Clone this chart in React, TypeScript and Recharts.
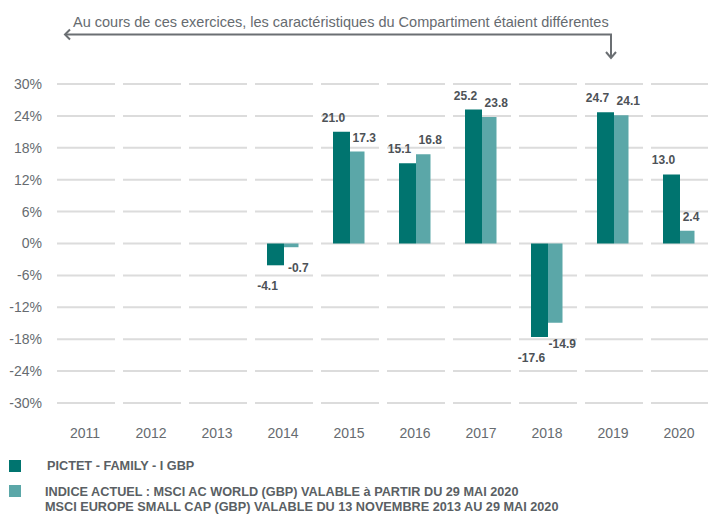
import { BarChart, Bar, XAxis, YAxis, CartesianGrid, LabelList } from "recharts";

const years = ["2011", "2012", "2013", "2014", "2015", "2016", "2017", "2018", "2019", "2020"];
const fundValues = [null, null, null, -4.1, 21.0, 15.1, 25.2, -17.6, 24.7, 13.0];
const indexValues = [null, null, null, -0.7, 17.3, 16.8, 23.8, -14.9, 24.1, 2.4];
const yTicks = [-30, -24, -18, -12, -6, 0, 6, 12, 18, 24, 30];

const noteText = "Au cours de ces exercices, les caractéristiques du Compartiment étaient différentes";
const fundName = "PICTET - FAMILY - I GBP";
const indexLines = [
  "INDICE ACTUEL : MSCI AC WORLD (GBP) VALABLE à PARTIR DU 29 MAI 2020",
  "MSCI EUROPE SMALL CAP (GBP) VALABLE DU 13 NOVEMBRE 2013 AU 29 MAI 2020",
];

const DARK = "#00746f";
const LIGHT = "#5ba7a8";
const TEXT = "#666b70";

const data = years.map((year, i) => ({
  year,
  fund: fundValues[i],
  index: indexValues[i],
}));

function makeLabel(dx: number) {
  return (props: any) => {
    const { x, y, width, height, value } = props;
    if (value === null || value === undefined) return null;
    const top = Math.min(y, y + height);
    const bottom = Math.max(y, y + height);
    // keep the last label inside the page
    const cx = Math.min(x + width / 2 + dx, 691);
    const ty = value >= 0 ? top - 10 : bottom + 25;
    return (
      <text
        x={cx}
        y={ty}
        textAnchor="middle"
        fontSize={12}
        fontWeight="bold"
        fontFamily="Liberation Sans, Arial, sans-serif"
        fill="#4d5257"
      >
        {Number(value).toFixed(1)}
      </text>
    );
  };
}

const legendText = {
  position: "absolute" as const,
  fontSize: 12.7,
  lineHeight: "15.6px",
  fontWeight: "bold" as const,
  color: "#5a5f64",
  fontFamily: "Liberation Sans, Arial, sans-serif",
  whiteSpace: "nowrap" as const,
};

export default function App() {
  return (
    <div
      style={{
        position: "relative",
        width: 708,
        height: 514,
        overflow: "hidden",
        background: "#fff",
        fontFamily: "Liberation Sans, Arial, sans-serif",
      }}
    >
      <style>{`body { margin: 0; overflow: hidden; }`}</style>
      <svg width={708} height={64} style={{ position: "absolute", left: 0, top: 0 }}>
        <text x={73} y={26.5} fontSize={14.5} fill={TEXT}>
          {noteText}
        </text>
        <g stroke="#6b6f73" strokeWidth={2} fill="none">
          <polyline points="65,34.5 611,34.5 611,58" />
          <polyline points="70,29.5 65,34.5 70,39.5" />
          <polyline points="606,52 611,58 616,52" />
        </g>
      </svg>
      <div style={{ position: "absolute", left: 0, top: 0 }}>
        <BarChart
          width={708}
          height={453}
          data={data}
          barGap={0}
          barCategoryGap={17}
          margin={{ top: 84, right: -4, bottom: 0, left: 0 }}
        >
          <CartesianGrid
            vertical={false}
            stroke="#dcdcdc"
            strokeWidth={2}
            strokeDasharray="0 5 58 3"
          />
          <XAxis
            dataKey="year"
            axisLine={false}
            tickLine={false}
            tickMargin={19}
            height={50}
            tick={{ fontSize: 14, fill: TEXT }}
          />
          <YAxis
            domain={[-30, 30]}
            ticks={yTicks}
            axisLine={false}
            tickLine={false}
            tickSize={0}
            tickMargin={10}
            width={52}
            tickFormatter={(v: number) => `${v}%`}
            tick={{ fontSize: 14, fill: TEXT }}
          />
          <Bar dataKey="fund" fill={DARK} barSize={17} isAnimationActive={false}>
            <LabelList dataKey="fund" content={makeLabel(-8)} />
          </Bar>
          <Bar dataKey="index" fill={LIGHT} barSize={14.5} isAnimationActive={false}>
            <LabelList dataKey="index" content={makeLabel(7)} />
          </Bar>
        </BarChart>
      </div>
      <div style={{ position: "absolute", left: 9, top: 460, width: 12, height: 12, background: DARK }} />
      <div style={{ position: "absolute", left: 9, top: 485, width: 12, height: 12, background: LIGHT }} />
      <div style={{ ...legendText, left: 47, top: 458.6 }}>{fundName}</div>
      <div style={{ ...legendText, left: 45, top: 484.6 }}>
        {indexLines.map((l) => (
          <div key={l}>{l}</div>
        ))}
      </div>
    </div>
  );
}
